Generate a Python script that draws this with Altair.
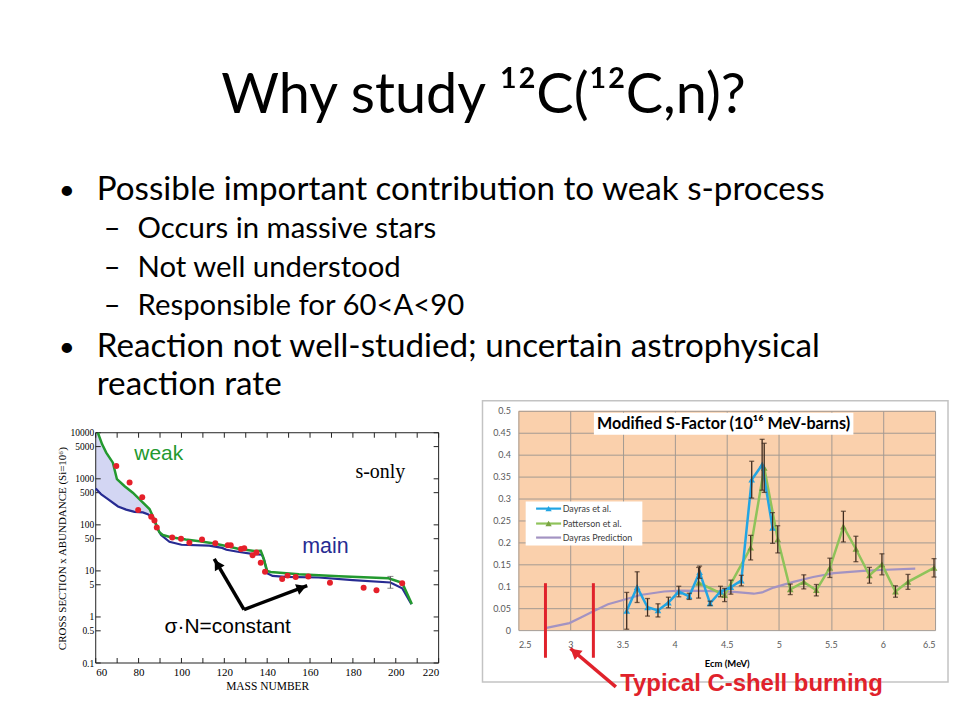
import altair as alt
import pandas as pd

FONT = "Lato"
SERIF = "Liberation Serif"
ARIAL = "Liberation Sans"

# ---------------- slide text ----------------
slide_title = "Why study ¹²C(¹²C,n)?"
bullet_1 = "Possible important contribution to weak s-process"
sub_bullets = ["Occurs in massive stars", "Not well understood", "Responsible for 60<A<90"]
bullet_2 = ["Reaction not well-studied; uncertain astrophysical", "reaction rate"]

# ---------------- left chart data (mass number vs sigma*N) ----------------
green_A = [61, 63, 64.9, 68, 69.9, 73.5, 77.3, 81.2, 85.1, 86.6, 88.2, 89.7, 91.3, 95.1, 102,
           108.4, 114.6, 119.2, 127, 134, 137, 138, 140, 141.6, 154.8, 173.5, 196.6, 203, 207.5]
green_v = [10000, 5600, 3700, 2240, 980, 690, 500, 330, 220, 155, 102, 69, 60, 54, 48,
           44, 40, 36, 30, 27, 27.5, 21, 10, 9.5, 8.5, 7.7, 6.9, 5.5, 1.9]
blue_A = [60, 62.6, 65.7, 70.4, 74.2, 78.1, 82, 84.3, 85.8, 87.4, 88.9, 90.5, 94.4, 100, 113,
          119, 121, 127, 133, 137.5, 138.6, 140, 142.5, 148.7, 164, 180, 197.5, 203, 207.3]
blue_v = [617, 457, 363, 251, 214, 191, 186, 170, 151, 123, 81, 60, 43, 37, 35.5,
          31.6, 28.8, 25.7, 23.4, 22.4, 17.4, 8.9, 7.8, 7.4, 7.2, 6.3, 5.6, 4.2, 1.9]
band_A = [60, 61, 63, 65, 68, 70, 73.5, 77.3, 81.2, 85, 87, 88.5]
band_hi = [10000, 10000, 5600, 3700, 2240, 980, 690, 500, 330, 220, 140, 100]
band_lo = [617, 560, 440, 370, 280, 250, 215, 192, 185, 160, 125, 95]
dots_A = [69.6, 75.8, 81.7, 79.8, 85.9, 87.4, 88.5, 95.7, 99.8, 103.7, 109.6, 115.8, 121.6, 123,
          127.8, 129.3, 133.2, 135, 137, 139, 147, 149.5, 153.3, 159.2, 169.3, 185, 191, 203]
dots_v = [1900, 830, 400, 210, 150, 125, 88, 53, 50, 41, 48, 40, 36, 36,
          30, 31, 22, 25, 15, 9.6, 6.7, 7.9, 7.4, 7.6, 5.5, 4.3, 3.8, 5.4]
err_A = [197.5]
err_lo = [4.2]
err_hi = [7.6]
left_xlabels = [60, 80, 100, 120, 140, 160, 180, 200, 220]
left_xticks = [60, 70, 80, 90, 100, 110, 120, 130, 140, 150, 160, 170, 180, 190, 200, 210, 220]
left_ylabels = [0.1, 0.5, 1, 5, 10, 50, 100, 500, 1000, 5000, 10000]

# ---------------- right chart data (modified S-factor) ----------------
dayras_e = [3.54, 3.64, 3.74, 3.84, 3.94, 4.04, 4.14, 4.24, 4.34, 4.44, 4.54, 4.64, 4.74, 4.84, 4.94]
dayras_s = [0.044, 0.098, 0.052, 0.045, 0.063, 0.088, 0.077, 0.132, 0.061, 0.088, 0.098, 0.113,
            0.343, 0.377, 0.233]
dayras_err = [0.042, 0.035, 0.02, 0.015, 0.012, 0.012, 0.007, 0.014, 0.005, 0.012, 0.016, 0.012,
              0.042, 0.058, 0.035]
patt_e = [4.23, 4.48, 4.73, 4.86, 4.99, 5.11, 5.24, 5.36, 5.49, 5.62, 5.74, 5.87, 5.99, 6.12, 6.24, 6.49]
patt_s = [0.108, 0.080, 0.188, 0.370, 0.207, 0.093, 0.110, 0.091, 0.142, 0.236, 0.185, 0.125,
          0.150, 0.088, 0.110, 0.142]
patt_err = [0.035, 0.015, 0.028, 0.056, 0.031, 0.012, 0.016, 0.013, 0.022, 0.035, 0.029, 0.018,
            0.024, 0.013, 0.017, 0.021]
pred_e = [2.77, 2.99, 3.1, 3.23, 3.36, 3.48, 3.67, 3.9, 4.06, 4.38, 4.57, 4.76, 4.84, 4.95,
          5.14, 5.33, 5.53, 5.81, 5.97, 6.31]
pred_s = [0.005, 0.016, 0.029, 0.044, 0.059, 0.067, 0.080, 0.088, 0.090, 0.089, 0.087, 0.083,
          0.086, 0.097, 0.110, 0.121, 0.130, 0.135, 0.137, 0.140]
burn_e = [2.76, 3.22]
right_xlabels = [2.5, 3, 3.5, 4, 4.5, 5, 5.5, 6, 6.5]
right_ylabels = [0, 0.05, 0.1, 0.15, 0.2, 0.25, 0.3, 0.35, 0.4, 0.45, 0.5]
legend_names = ["Dayras et al.", "Patterson et al.", "Dayras Prediction"]

C_BLUE = "#22a5e3"
C_GREEN = "#8fc35a"
C_GREEN_M = "#7aa443"
C_PURPLE = "#a393c2"
C_EB = "#3d2a1e"
C_RED = "#e0222b"

one = pd.DataFrame({"k": [0]})


def tlayer(text, x, y, size, font=FONT, align="left", baseline="alphabetic",
           color="black", weight="normal"):
    return alt.Chart(one).mark_text(
        text=text, font=font, fontSize=size, align=align, baseline=baseline,
        color=color, fontWeight=weight
    ).encode(x=alt.value(x), y=alt.value(y))


# ---------------- text part of slide ----------------
panel = alt.Chart(one).mark_rect(fill="white", stroke="#c3c3c3", strokeWidth=1.5).encode(
    x=alt.value(473), x2=alt.value(940), y=alt.value(393), y2=alt.value(675))
tl = [panel, tlayer(slide_title, 474, 104, 56, align="center")]
tl.append(tlayer("•", 48, 191, 28))
tl.append(tlayer(bullet_1, 86, 192, 33.3))
for i, s in enumerate(sub_bullets):
    yy = 230 + 38.5 * i
    tl.append(tlayer("–", 93, yy, 29))
    tl.append(tlayer(s, 127, yy, 29.4))
tl.append(tlayer("•", 48, 348, 28))
tl.append(tlayer(bullet_2[0], 86, 349, 33.3))
tl.append(tlayer(bullet_2[1], 86, 387, 33.3))
text_chart = alt.layer(*tl).properties(width=944, height=403)

# ---------------- left chart ----------------
LH = 253
LW = 344
ltop = 10 ** (4 + 22 / 46.2)
LXS = alt.Scale(domain=[60, 220], nice=False, zero=False)
LYS = alt.Scale(type="log", domain=[0.1, ltop], nice=False)
LXA = alt.Axis(values=left_xlabels, title="MASS NUMBER", titleFont=SERIF, titleFontSize=11.5,
               titleFontWeight="normal", titleColor="black", labelFont=SERIF, labelFontSize=11,
               labelColor="black", ticks=False, domain=False, grid=False, labelPadding=4,
               titlePadding=3, labelOverlap=False)
LYA = alt.Axis(values=left_ylabels, format="~g", title="CROSS SECTION x ABUNDANCE (Si=10⁶)",
               titleFont=SERIF, titleFontSize=11, titleFontWeight="normal", titleColor="black",
               titleX=-28, titleY=137.8, labelFont=SERIF, labelFontSize=9.5, labelColor="black",
               ticks=False, domain=False, grid=False, labelPadding=2, labelOverlap=False)


def lx(f):
    return alt.X(f"{f}:Q", scale=LXS, axis=LXA)


def ly(f):
    return alt.Y(f"{f}:Q", scale=LYS, axis=LYA)


band_df = pd.DataFrame({"A": band_A, "v": band_hi, "lo": band_lo})
green_df = pd.DataFrame({"A": green_A, "v": green_v})
blue_df = pd.DataFrame({"A": blue_A, "v": blue_v})
dots_df = pd.DataFrame({"A": dots_A, "v": dots_v})
err_df = pd.DataFrame({"A": err_A, "v": err_lo, "hi": err_hi})
xt_df = pd.DataFrame({"A": left_xticks})
yt_df = pd.DataFrame({"v": left_ylabels})

band = alt.Chart(band_df).mark_area(color="#d3d6f3", opacity=1).encode(
    x=lx("A"), y=ly("v"), y2="lo")
frame = alt.Chart(one).mark_rect(fillOpacity=0, stroke="#222", strokeWidth=1).encode(
    x=alt.datum(60), x2=alt.datum(220), y=alt.datum(10000), y2=alt.datum(0.1))
tick_b = alt.Chart(xt_df).mark_rule(color="#222").encode(
    x=lx("A"), y=alt.value(LH), y2=alt.value(LH - 5))
tick_t = alt.Chart(xt_df).mark_rule(color="#222").encode(
    x=lx("A"), y=alt.value(22), y2=alt.value(27))
tick_l = alt.Chart(yt_df).mark_rule(color="#222").encode(
    y=ly("v"), x=alt.value(0), x2=alt.value(5))
tick_r = alt.Chart(yt_df).mark_rule(color="#222").encode(
    y=ly("v"), x=alt.value(LW), x2=alt.value(LW - 5))
blue_line = alt.Chart(blue_df).mark_line(color="#272b92", strokeWidth=2.2).encode(
    x=lx("A"), y=ly("v"))
green_line = alt.Chart(green_df).mark_line(color="#23992f", strokeWidth=2.5).encode(
    x=lx("A"), y=ly("v"))
dots = alt.Chart(dots_df).mark_circle(size=36, color="#e5202a", opacity=1).encode(
    x=lx("A"), y=ly("v"))
errbar = alt.Chart(err_df).mark_rule(color="#555").encode(x=lx("A"), y=ly("v"), y2="hi")
errcap_lo = alt.Chart(err_df).mark_tick(color="#555", orient="horizontal", size=6,
                                        thickness=1).encode(x=lx("A"), y=ly("v"))
errcap_hi = alt.Chart(err_df).mark_tick(color="#555", orient="horizontal", size=6,
                                        thickness=1).encode(x=lx("A"), y=ly("hi"))
arrow1 = alt.Chart(one).mark_rule(color="black", strokeWidth=3.5).encode(
    x=alt.datum(129.2), y=alt.datum(1.45), x2=alt.datum(115.3), y2=alt.datum(18.2))
arrow2 = alt.Chart(one).mark_rule(color="black", strokeWidth=3.5).encode(
    x=alt.datum(129.2), y=alt.datum(1.45), x2=alt.datum(158.7), y2=alt.datum(4.8))
head1 = alt.Chart(one).mark_point(shape="triangle-up", filled=True, color="black", opacity=1,
                                  size=130, angle=329).encode(x=alt.datum(116.7), y=alt.datum(14.0))
head2 = alt.Chart(one).mark_point(shape="triangle-up", filled=True, color="black", opacity=1,
                                  size=130, angle=69).encode(x=alt.datum(156.1), y=alt.datum(4.32))
t_weak = alt.Chart(one).mark_text(text="weak", font=ARIAL, fontSize=21, color="#23992f",
                                  baseline="middle").encode(x=alt.datum(89.4), y=alt.datum(3400))
t_sonly = alt.Chart(one).mark_text(text="s-only", font=SERIF, fontSize=20, color="black",
                                   baseline="middle").encode(x=alt.datum(192.8), y=alt.datum(1380))
t_main = alt.Chart(one).mark_text(text="main", font=ARIAL, fontSize=21.5, color="#272b92",
                                  baseline="middle").encode(x=alt.datum(167.2), y=alt.datum(33))
t_sigma = alt.Chart(one).mark_text(text="σ·N=constant", font=ARIAL, fontSize=21, color="black",
                                   baseline="middle").encode(x=alt.datum(121.6), y=alt.datum(0.62))

left = alt.layer(band, frame, tick_b, tick_t, tick_l, tick_r, blue_line, green_line, dots,
                 errbar, errcap_lo, errcap_hi, arrow1, arrow2, head1, head2,
                 t_weak, t_sonly, t_main, t_sigma).properties(width=LW, height=LH)

# ---------------- right chart ----------------
RW = 418
RH = 220
RXS = alt.Scale(domain=[2.5, 6.5], nice=False, zero=False)
RYS = alt.Scale(domain=[0, 0.5], nice=False, zero=False)
RXA = alt.Axis(values=right_xlabels, format="~g", title="Ecm (MeV)", titleFont=FONT,
               titleFontSize=9.5, titleFontWeight="bold", titleColor="black", labelFont=FONT,
               labelFontSize=9, labelColor="#595959", ticks=False, domain=False, grid=True,
               gridColor="#a39a92", gridWidth=1, labelPadding=10, titlePadding=9,
               labelOverlap=False)
RYA = alt.Axis(values=right_ylabels, format="~g", title=None, labelFont=FONT, labelFontSize=9,
               labelColor="#595959", ticks=False, domain=False, grid=True, gridColor="#a39a92",
               gridWidth=1, labelPadding=8, labelOverlap=False)


def rx(f):
    return alt.X(f"{f}:Q", scale=RXS, axis=RXA)


def ry(f):
    return alt.Y(f"{f}:Q", scale=RYS, axis=RYA)


def rxd(v):
    return alt.XDatum(v, scale=RXS, axis=RXA)


def ryd(v):
    return alt.YDatum(v, scale=RYS, axis=RYA)


dayras_df = pd.DataFrame({"E": dayras_e, "S": dayras_s,
                          "lo": [s - e for s, e in zip(dayras_s, dayras_err)],
                          "hi": [s + e for s, e in zip(dayras_s, dayras_err)]})
patt_df = pd.DataFrame({"E": patt_e, "S": patt_s,
                        "lo": [s - e for s, e in zip(patt_s, patt_err)],
                        "hi": [s + e for s, e in zip(patt_s, patt_err)]})
pred_df = pd.DataFrame({"E": pred_e, "S": pred_s})
burn_df = pd.DataFrame({"E": burn_e})

pred_line = alt.Chart(pred_df).mark_line(color=C_PURPLE, strokeWidth=2.2).encode(
    x=rx("E"), y=ry("S"))
patt_line = alt.Chart(patt_df).mark_line(color=C_GREEN, strokeWidth=2.5).encode(
    x=rx("E"), y=ry("S"))
patt_pts = alt.Chart(patt_df).mark_point(shape="triangle-up", filled=True, color=C_GREEN_M,
                                         opacity=1, size=45).encode(x=rx("E"), y=ry("S"))
day_line = alt.Chart(dayras_df).mark_line(color=C_BLUE, strokeWidth=2.5).encode(
    x=rx("E"), y=ry("S"))
day_pts = alt.Chart(dayras_df).mark_point(shape="triangle-up", filled=True, color=C_BLUE,
                                          opacity=1, size=45).encode(x=rx("E"), y=ry("S"))


def errbars(df):
    r = alt.Chart(df).mark_rule(color=C_EB, strokeWidth=1.3).encode(x=rx("E"), y=ry("lo"), y2="hi")
    a = alt.Chart(df).mark_tick(color=C_EB, orient="horizontal", size=5, thickness=1.3).encode(
        x=rx("E"), y=ry("lo"))
    b = alt.Chart(df).mark_tick(color=C_EB, orient="horizontal", size=5, thickness=1.3).encode(
        x=rx("E"), y=ry("hi"))
    return [r, a, b]


title_box = alt.Chart(one).mark_rect(fill="white").encode(
    x=rxd(3.225), x2=alt.datum(5.716), y=ryd(0.4955), y2=alt.datum(0.4455))
title_txt = alt.Chart(one).mark_text(text="Modified S-Factor (10¹⁶ MeV-barns)", font=FONT,
                                     fontSize=16.2, fontWeight="bold", color="black",
                                     baseline="middle").encode(x=rxd(4.47), y=ryd(0.4705))
leg_box = alt.Chart(one).mark_rect(fill="white").encode(
    x=rxd(2.57), x2=alt.datum(3.69), y=ryd(0.293), y2=alt.datum(0.193))
leg_layers = [leg_box]
leg_y = [0.277, 0.243, 0.211]
leg_col = [C_BLUE, C_GREEN, C_PURPLE]
leg_mark = [C_BLUE, C_GREEN_M, None]
for i in range(3):
    leg_layers.append(alt.Chart(one).mark_rule(color=leg_col[i], strokeWidth=2.2).encode(
        x=rxd(2.67), x2=alt.datum(2.91), y=ryd(leg_y[i])))
    if leg_mark[i]:
        leg_layers.append(alt.Chart(one).mark_point(shape="triangle-up", filled=True,
                                                    color=leg_mark[i], opacity=1, size=40).encode(
            x=rxd(2.79), y=ryd(leg_y[i])))
    leg_layers.append(alt.Chart(one).mark_text(text=legend_names[i], font=FONT, fontSize=9,
                                               color="#404040", align="left",
                                               baseline="middle").encode(
        x=rxd(2.925), y=ryd(leg_y[i])))

burn_lines = alt.Chart(burn_df).mark_rule(color=C_RED, strokeWidth=3).encode(
    x=rx("E"), y=ryd(0.107), y2=alt.datum(-0.063))
red_arrow = alt.Chart(one).mark_rule(color=C_RED, strokeWidth=3.5).encode(
    x=rxd(3.436), y=ryd(-0.1295), x2=alt.datum(3.0), y2=alt.datum(-0.042))
red_head = alt.Chart(one).mark_point(shape="triangle-up", filled=True, color=C_RED, opacity=1,
                                     size=150, angle=310).encode(x=rxd(3.04), y=ryd(-0.050))
red_txt = alt.Chart(one).mark_text(text="Typical C-shell burning", font=ARIAL, fontSize=24,
                                   fontWeight="bold", color=C_RED, baseline="middle").encode(
    x=rxd(4.738), y=ryd(-0.1227))

right = alt.layer(
    pred_line, patt_line, patt_pts, day_line, day_pts,
    *errbars(patt_df), *errbars(dayras_df),
    title_box, title_txt, *leg_layers, burn_lines, red_arrow, red_head, red_txt
).properties(width=RW, height=RH, view=alt.ViewBackground(fill="#fad0ac"))

# ---------------- layout ----------------
def spacer(w):
    return alt.Chart(one).mark_point(opacity=0).encode(
        x=alt.value(0), y=alt.value(0)).properties(width=w, height=10)


row = alt.hconcat(spacer(85), left, spacer(80), right, spacing=0, bounds="flush")
chart = alt.vconcat(text_chart, row, spacing=0, bounds="flush").properties(
    padding=0, background="white").configure_view(stroke=None).configure_axis(labelOverlap=False)

chart.save("out.html", embed_options={"renderer": "svg", "actions": False})
